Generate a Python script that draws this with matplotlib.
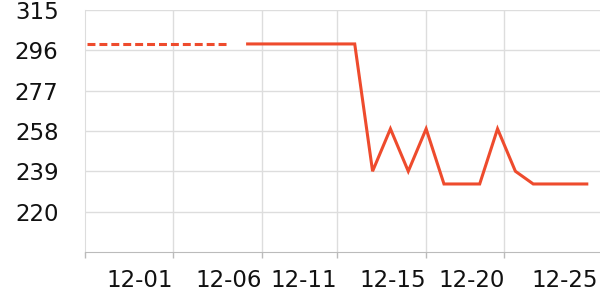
import matplotlib
matplotlib.use("Agg")
import matplotlib.pyplot as plt

# Data (x = sample index)
dashed_x = [0, 1, 2, 3, 4, 5, 6, 7, 8]
dashed_y = [299, 299, 299, 299, 299, 299, 299, 299, 299]
solid_x = list(range(9, 29))
solid_y = [299, 299, 299, 299, 299, 299, 299, 239, 259, 239, 259, 233, 233, 233,
           259, 239, 233, 233, 233, 233]

y_ticks = [220, 239, 258, 277, 296, 315]
x_tick_pos = [4.83, 9.82, 14.02, 18.97, 23.38, 28.6]
x_tick_labels = ["12-01", "12-06", "12-11", "12-15", "12-20", "12-25"]

color = "#ee4b2d"

fig = plt.figure(figsize=(6, 3), dpi=100)
ax = fig.add_axes([85 / 600, (300 - 252.3) / 300, 1 - 85 / 600, (252.3 - 10) / 300])

ax.plot(dashed_x, dashed_y, color=color, lw=2.2, dashes=(2.6, 1.3), solid_capstyle="butt",
        dash_capstyle="butt")
ax.plot(solid_x, solid_y, color=color, lw=2.2, solid_joinstyle="miter")

ax.set_xlim(-0.11, 28.74)
ax.set_ylim(200.8, 315)

ax.set_yticks(y_ticks)
ax.set_yticklabels([str(v) for v in y_ticks])
ax.set_xticks([-0.11] + x_tick_pos)
ax.set_xticklabels([""] + x_tick_labels, ha="right")

ax.tick_params(axis="y", length=0, pad=19, labelsize=16.5, labelcolor="#111111")
ax.tick_params(axis="x", length=4, width=1, color="#bbbbbb", pad=8, labelsize=16.5,
               labelcolor="#111111")

ax.grid(True, color="#dddddd", lw=1)
ax.set_axisbelow(True)
xgl = ax.get_xgridlines()
xgl[-1].set_visible(False)
xgl[0].set_visible(False)
ax.xaxis.get_major_ticks()[-1].tick1line.set_visible(False)

for s in ["top", "right"]:
    ax.spines[s].set_visible(False)
ax.spines["left"].set_color("#dddddd")
ax.spines["bottom"].set_color("#bbbbbb")

fig.savefig("out.png", dpi=100)
